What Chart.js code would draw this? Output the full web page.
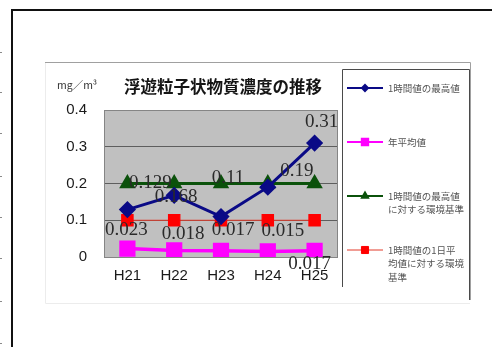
<!DOCTYPE html>
<html>
<head>
<meta charset="utf-8">
<script src="https://cdn.jsdelivr.net/npm/chart.js@4.4.1/dist/chart.umd.min.js"></script>
<style>
  html, body { margin: 0; padding: 0; background: #fff; overflow: hidden; }
  #wrap { position: relative; width: 492px; height: 347px; }
  canvas { display: block; }
</style>
</head>
<body>
<div id="wrap"><canvas id="c" width="492" height="347"></canvas></div>
<script>
// Fiscal years (Heisei)
const years = ["H21", "H22", "H23", "H24", "H25"];

// Series names, split into the lines shown in the legend
const seriesNames = [
  ["1時間値の最高値"],
  ["年平均値"],
  ["1時間値の最高値", "に対する環境基準"],
  ["1時間値の1日平", "均値に対する環境", "基準"]
];

// Suspended particulate matter, mg/m³
const hourlyMax = [0.129, 0.168, 0.11, 0.19, 0.31];
const annualMean = [0.023, 0.018, 0.017, 0.015, 0.017];
const hourlyMaxStandard = [0.2, 0.2, 0.2, 0.2, 0.2];
const dailyMeanStandard = [0.1, 0.1, 0.1, 0.1, 0.1];

// Value axis
const yTicks = [0, 0.1, 0.2, 0.3, 0.4];

const chartTitle = "浮遊粒子状物質濃度の推移";
const unitLabel = "mg／m³";

// Where each value label sits relative to its point (px)
const hourlyMaxLabelOffsets = [[23, -27], [2, 2], [7, -39], [29, -16], [7, -21]];
const annualMeanLabelOffsets = [[-1, -19], [9, -16], [12, -21], [15, -20], [-5, 13]];

const COLORS = {
  navy: "#0a0a86",
  magenta: "#ff00ff",
  green: "#0b520b",
  red: "#ff0000",
  redLine: "#e23a2a",
  plotBg: "#c0c0c0",
  grid: "#5e5e5e",
  frame: "#858585"
};

// Page and chart frames drawn behind everything
const framePlugin = {
  id: "frames",
  beforeDraw(chart) {
    const ctx = chart.ctx;
    const a = chart.chartArea;
    ctx.save();
    // small marks down the left margin
    ctx.fillStyle = "#8a8a8a";
    [52, 92, 133, 176, 217, 258, 301, 343].forEach(y => ctx.fillRect(0, y, 2, 1));
    // outer black frame
    ctx.strokeStyle = "#111";
    ctx.lineWidth = 2;
    ctx.beginPath();
    ctx.moveTo(12, 347); ctx.lineTo(12, 10); ctx.lineTo(492, 10);
    ctx.stroke();
    // chart box
    ctx.lineWidth = 1;
    ctx.strokeStyle = "#ececec";
    ctx.beginPath();
    ctx.moveTo(45.5, 62); ctx.lineTo(45.5, 303.5); ctx.lineTo(470, 303.5);
    ctx.stroke();
    ctx.strokeStyle = "#a0a0a0";
    ctx.beginPath();
    ctx.moveTo(45, 62.5); ctx.lineTo(470.5, 62.5); ctx.lineTo(470.5, 300);
    ctx.stroke();
    // plot background
    ctx.fillStyle = COLORS.plotBg;
    ctx.fillRect(a.left, a.top, a.right - a.left, a.bottom - a.top);
    ctx.restore();
  },
  beforeDatasetsDraw(chart) {
    const ctx = chart.ctx;
    const a = chart.chartArea;
    ctx.save();
    ctx.strokeStyle = COLORS.frame;
    ctx.lineWidth = 1;
    ctx.strokeRect(Math.round(a.left) + 0.5, Math.round(a.top) + 0.5,
      Math.round(a.right - a.left) - 1, Math.round(a.bottom - a.top));
    ctx.restore();
  }
};

// Title, unit, value labels and the boxed legend
const textPlugin = {
  id: "texts",
  afterDraw(chart) {
    const ctx = chart.ctx;
    const a = chart.chartArea;
    ctx.save();
    ctx.textBaseline = "middle";

    ctx.fillStyle = "#151515";
    ctx.font = 'bold 16.5px "Noto Sans CJK JP"';
    ctx.textAlign = "center";
    ctx.fillText(chartTitle, 223, 87);

    ctx.fillStyle = "#333";
    ctx.font = '10.5px "Noto Sans CJK JP"';
    ctx.textAlign = "left";
    ctx.fillText(unitLabel, 57, 85);

    // value labels
    ctx.font = '19px "Liberation Serif"';
    ctx.textAlign = "center";
    ctx.fillStyle = "#2a2a2a";
    chart.data.datasets.forEach((ds, i) => {
      if (!ds.labelOffsets) return;
      const meta = chart.getDatasetMeta(i);
      meta.data.forEach((pt, j) => {
        const off = ds.labelOffsets[j];
        ctx.fillText(String(ds.data[j]), pt.x + off[0], pt.y + off[1]);
      });
    });

    // legend box
    ctx.strokeStyle = "#4a4a4a";
    ctx.lineWidth = 1;
    ctx.beginPath();
    ctx.moveTo(342.5, 287); ctx.lineTo(342.5, 69.5); ctx.lineTo(469.5, 69.5); ctx.lineTo(469.5, 300);
    ctx.stroke();

    const itemY = [88, 142, 196, 250];
    const lineH = 13.5;
    ctx.font = '9.5px "Noto Sans CJK JP"';
    ctx.textAlign = "left";
    chart.data.datasets.forEach((ds, i) => {
      const y = itemY[i];
      ctx.strokeStyle = ds.borderColor;
      ctx.lineWidth = ds.legendLineWidth;
      ctx.beginPath();
      ctx.moveTo(347, y); ctx.lineTo(383, y);
      ctx.stroke();
      ctx.fillStyle = ds.pointBackgroundColor;
      ctx.strokeStyle = ds.pointBackgroundColor;
      Chart.helpers.drawPoint(ctx, {
        pointStyle: ds.pointStyle, radius: ds.legendPointRadius, rotation: 0, borderWidth: 1
      }, 365, y);
      ctx.fillStyle = "#555";
      seriesNames[i].forEach((line, k) => ctx.fillText(line, 388, y + k * lineH));
    });
    ctx.restore();
  }
};

new Chart(document.getElementById("c"), {
  type: "line",
  data: {
    labels: years,
    datasets: [
      {
        label: seriesNames[0].join(""),
        data: hourlyMax,
        borderColor: COLORS.navy,
        backgroundColor: COLORS.navy,
        pointBackgroundColor: COLORS.navy,
        pointBorderColor: COLORS.navy,
        borderWidth: 3,
        pointStyle: "rectRot",
        pointRadius: 6.5,
        legendLineWidth: 2,
        legendPointRadius: 3,
        labelOffsets: hourlyMaxLabelOffsets
      },
      {
        label: seriesNames[1].join(""),
        data: annualMean,
        borderColor: COLORS.magenta,
        backgroundColor: COLORS.magenta,
        pointBackgroundColor: COLORS.magenta,
        pointBorderColor: COLORS.magenta,
        borderWidth: 3.5,
        pointStyle: "rect",
        pointRadius: 9,
        legendLineWidth: 2,
        legendPointRadius: 4.5,
        labelOffsets: annualMeanLabelOffsets
      },
      {
        label: seriesNames[2].join(""),
        data: hourlyMaxStandard,
        borderColor: COLORS.green,
        backgroundColor: COLORS.green,
        pointBackgroundColor: COLORS.green,
        pointBorderColor: COLORS.green,
        borderWidth: 3,
        pointStyle: "triangle",
        pointRadius: 6.5,
        legendLineWidth: 2,
        legendPointRadius: 3.5
      },
      {
        label: seriesNames[3].join(""),
        data: dailyMeanStandard,
        borderColor: COLORS.redLine,
        backgroundColor: COLORS.red,
        pointBackgroundColor: COLORS.red,
        pointBorderColor: COLORS.red,
        borderWidth: 1.2,
        pointStyle: "rect",
        pointRadius: 8,
        legendLineWidth: 1,
        legendPointRadius: 5
      }
    ]
  },
  options: {
    responsive: false,
    animation: false,
    devicePixelRatio: 1,
    layout: { padding: { left: 45, top: 110, right: 154, bottom: 50 } },
    plugins: {
      legend: { display: false },
      title: { display: false },
      tooltip: { enabled: false }
    },
    elements: { line: { tension: 0 }, point: { borderWidth: 1 } },
    scales: {
      x: {
        offset: true,
        grid: { display: false, drawTicks: false },
        border: { display: false },
        ticks: {
          padding: 10,
          color: "#1a1a1a",
          font: { family: '"Liberation Sans", Arial, sans-serif', size: 15 }
        },
        afterFit(scale) { scale.height = 40; }
      },
      y: {
        min: yTicks[0],
        max: yTicks[yTicks.length - 1],
        afterBuildTicks(scale) { scale.ticks = yTicks.map(v => ({ value: v })); },
        grid: {
          drawTicks: false,
          color: ctx => (ctx.tick && ctx.tick.value > 0 && ctx.tick.value < 0.4) ? COLORS.grid : "rgba(0,0,0,0)",
          lineWidth: 1
        },
        border: { display: false },
        ticks: {
          padding: 17,
          color: "#1a1a1a",
          font: { family: '"Liberation Sans", Arial, sans-serif', size: 15 }
        },
        afterFit(scale) { scale.width = 59; }
      }
    }
  },
  plugins: [framePlugin, textPlugin]
});
</script>
</body>
</html>
